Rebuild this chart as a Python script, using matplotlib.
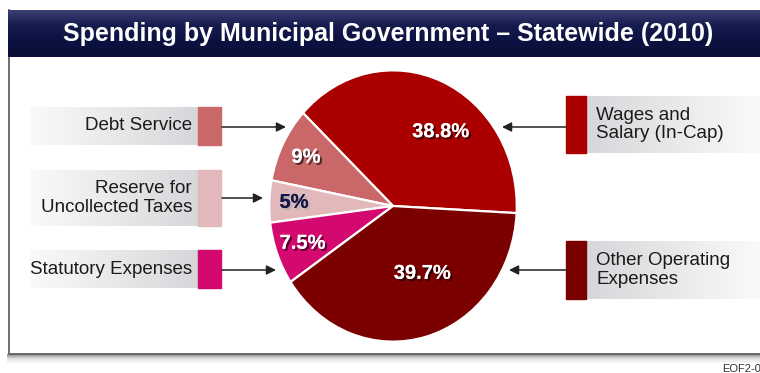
import numpy as np
import matplotlib
matplotlib.use("Agg")
import matplotlib.pyplot as plt
import matplotlib.patheffects as pe
from matplotlib.colors import LinearSegmentedColormap

plt.rcParams['font.family'] = ['Liberation Sans', 'DejaVu Sans']

# spending shares, counter-clockwise from the right
categories = ['Wages and\nSalary (In-Cap)', 'Debt Service', 'Reserve for\nUncollected Taxes',
              'Statutory Expenses', 'Other Operating\nExpenses']
shares = [38.8, 9.0, 5.0, 7.5, 39.7]
pct_labels = ['38.8%', '9%', '5%', '7.5%', '39.7%']
colors = ['#ab0000', '#c96769', '#e2b8ba', '#d4096f', '#7b0000']
pct_colors = ['white', 'white', '#14164a', 'white', 'white']
title = 'Spending by Municipal Government \u2013 Statewide (2010)'

W, H = 760, 373
fig = plt.figure(figsize=(W / 100, H / 100), dpi=100)
fig.patch.set_facecolor('white')

# background canvas in pixel units
bg = fig.add_axes([0, 0, 1, 1])
bg.set_xlim(0, W)
bg.set_ylim(H, 0)
bg.axis('off')


def hgrad(ax, x0, x1, y0, y1, c0, c1, z=1):
    cmap = LinearSegmentedColormap.from_list('g', [c0, c1])
    ax.imshow(np.linspace(0, 1, 256)[None, :], cmap=cmap, extent=(x0, x1, y1, y0),
              aspect='auto', zorder=z, interpolation='bilinear')


def vgrad(ax, x0, x1, y0, y1, cols, z=1):
    cmap = LinearSegmentedColormap.from_list('g', cols)
    ax.imshow(np.linspace(0, 1, 256)[:, None], cmap=cmap, extent=(x0, x1, y1, y0),
              aspect='auto', zorder=z, interpolation='bilinear')


# panel frame and drop shadow
vgrad(bg, 7, W, 354, 364, ['#8a8a8a', '#e6e6e6', '#ffffff'], z=0)
bg.plot([9, 9, W], [10, 354, 354], color='#555555', lw=1.2, zorder=2)

# title bar
vgrad(bg, 8, W, 10, 57, ['#3b4174', '#151b4c', '#0c1240', '#0a0f38'], z=2)
bg.text(388, 34, title, color='white', fontsize=18, fontweight='bold',
        ha='center', va='center', zorder=3)

# left side label boxes: (category index, top, bottom, arrow y, arrow tip)
left_boxes = [(1, 107, 145, 127, 286), (2, 170, 226, 198, 263), (3, 250, 288, 270, 276)]
for i, y0, y1, ya, tip in left_boxes:
    hgrad(bg, 30, 198, y0, y1, '#fafafa', '#d6d7da', z=1)
    bg.add_patch(plt.Rectangle((198, y0), 23, y1 - y0, color=colors[i], zorder=2))
    bg.text(192, (y0 + y1) / 2, categories[i], ha='right', va='center',
            fontsize=13.5, color='#1a1a1a', linespacing=1.15, zorder=3)
    bg.annotate('', xy=(tip, ya), xytext=(222, ya),
                arrowprops=dict(arrowstyle='-|>', color='#222222', lw=1.1,
                                mutation_scale=14, shrinkA=0, shrinkB=0), zorder=3)

# right side label boxes
right_boxes = [(0, 96, 153, 127, 502), (4, 241, 299, 270, 509)]
for i, y0, y1, ya, tip in right_boxes:
    hgrad(bg, 586, W, y0, y1, '#d6d7da', '#fafafa', z=1)
    bg.add_patch(plt.Rectangle((566, y0), 20, y1 - y0, color=colors[i], zorder=2))
    bg.text(596, (y0 + y1) / 2, categories[i], ha='left', va='center',
            fontsize=13.5, color='#1a1a1a', linespacing=1.15, zorder=3)
    bg.annotate('', xy=(tip, ya), xytext=(566, ya),
                arrowprops=dict(arrowstyle='-|>', color='#222222', lw=1.1,
                                mutation_scale=14, shrinkA=0, shrinkB=0), zorder=3)

bg.text(722, 369, 'EOF2-0', fontsize=8, color='#333333', ha='left', va='center')

# pie drawn slightly taller than wide
cx, cy, rx, ry = 393, 206, 125, 137
pax = fig.add_axes([(cx - rx) / W, (H - cy - ry) / H, 2 * rx / W, 2 * ry / H])
wedges, _ = pax.pie(shares, colors=colors, startangle=-3, counterclock=True,
                    wedgeprops=dict(edgecolor='white', linewidth=1.6))
pax.set_aspect('auto')
pax.set_xlim(-1.01, 1.01)
pax.set_ylim(-1.01, 1.01)
pax.axis('off')

dist = [0.67, 0.79, 0.8, 0.78, 0.55]
nudge = [-12, 0, 0, 0, 10]
for w, lab, d, n, c in zip(wedges, pct_labels, dist, nudge, pct_colors):
    ang = np.deg2rad((w.theta1 + w.theta2) / 2 + n)
    shadow = 'black' if c == 'white' else '#aaaaaa'
    pax.text(d * np.cos(ang), d * np.sin(ang), lab, ha='center', va='center',
             fontsize=14.5, fontweight='bold', color=c,
             path_effects=[pe.withSimplePatchShadow(offset=(1.5, -1.5),
                                                    shadow_rgbFace=shadow, alpha=0.6),
                           pe.Normal()])

fig.savefig('out.png', dpi=100)
